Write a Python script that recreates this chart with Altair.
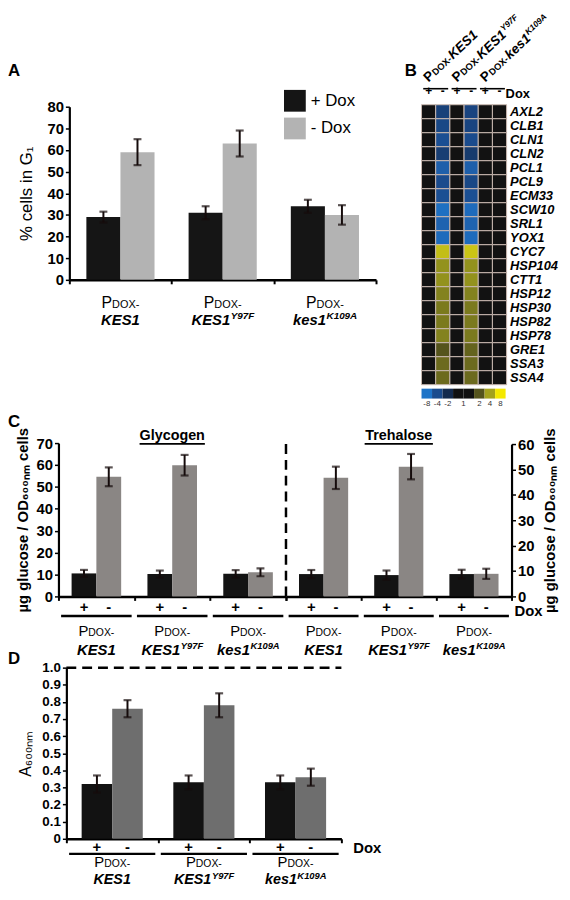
import math
import json
import altair as alt
import pandas as pd

W, H = 560, 884
FONT = "Liberation Sans"
ERR = "#150b0b"

# ---------------- data ----------------
groups = ["KES1", "KES1Y97F", "kes1K109A"]
group_main = ["KES1", "KES1", "kes1"]
group_sup = ["", "Y97F", "K109A"]
dox = ["+ Dox", "- Dox"]
dox_sign = ["+", "-"]

# A: % cells in G1
a_plus = [29, 31, 34]
a_plus_err = [2.5, 3.0, 3.0]
a_minus = [59, 63, 30]
a_minus_err = [6.0, 6.0, 4.5]

# C: glycogen (left axis) and trehalose (right axis)
gly_plus = [10.5, 10.2, 10.3]
gly_plus_err = [1.6, 1.6, 1.7]
gly_minus = [54.6, 59.9, 11.0]
gly_minus_err = [4.3, 4.7, 1.8]
tre_plus = [8.8, 8.4, 8.8]
tre_plus_err = [1.6, 1.8, 1.7]
tre_minus = [46.7, 51.1, 8.9]
tre_minus_err = [4.4, 5.0, 2.0]

# D: A600nm
d_plus = [0.32, 0.33, 0.33]
d_plus_err = [0.05, 0.04, 0.04]
d_minus = [0.76, 0.78, 0.36]
d_minus_err = [0.05, 0.07, 0.05]

# B: heat map (log2 fold change)
genes = ["AXL2", "CLB1", "CLN1", "CLN2", "PCL1", "PCL9", "ECM33", "SCW10", "SRL1", "YOX1",
         "CYC7", "HSP104", "CTT1", "HSP12", "HSP30", "HSP82", "HSP78", "GRE1", "SSA3", "SSA4"]
heat_cols = ["KES1 +", "KES1 -", "KES1Y97F +", "KES1Y97F -", "kes1K109A +", "kes1K109A -"]
lfc_kes1_plus = [0, 0, 0, 0, 0, 0, 0, 0, 0, 0, 0, 0, 0, 0, 0, 0, 0, 0, 0, 0]
lfc_kes1_minus = [-1.7, -1.9, -2.1, -1.6, -2.5, -2.0, -2.1, -2.9, -2.6, -2.8,
                  2.4, 1.8, 1.8, 1.6, 1.5, 1.5, 1.6, 1.0, 1.3, 1.3]
lfc_y97f_plus = [0, 0, 0, 0, 0, 0, 0, 0, 0, 0, 0, 0, 0, 0, 0, 0, 0, 0, 0, 0]
lfc_y97f_minus = [-1.8, -1.8, -2.0, -1.5, -2.5, -1.9, -2.1, -2.8, -2.6, -2.8,
                  2.5, 1.8, 1.8, 1.6, 1.5, 1.5, 1.5, 1.2, 1.3, 1.3]
lfc_k109a_plus = [0, 0, 0, 0, 0, 0, 0, 0, 0, 0, 0, 0, 0, 0, 0, 0, 0, 0, 0, 0]
lfc_k109a_minus = [0, 0, 0, 0, 0, 0, 0, 0, 0, 0, 0, 0, 0, 0, 0, 0, 0, 0, 0, 0]

cb_ids = ["-8", "-4", "-2", "-1", "+1", "2", "4", "8"]
cb_text = ["-8", "-4", "-2", "", "", "2", "4", "8"]

# ---------------- styles ----------------
heat_domain = [-3, -2, -1, 0, 1, 2, 3]
heat_range = ["#1e74c8", "#1a4b8d", "#142b4e", "#121212", "#55541c", "#a4a21c", "#f4e800"]
cb_colors = ["#1e74c8", "#1a4b8d", "#142b4e", "#111111", "#111111", "#55541c", "#a4a21c", "#f4e800"]

BOLD_W = {'K': .722, 'E': .667, 'S': .667, '1': .556, 'k': .556, 'e': .556, 's': .556,
          'Y': .667, '9': .556, '7': .556, 'F': .611, '0': .556, 'A': .722}


def tw(s, size):
    return sum(BOLD_W.get(c, 0.6) for c in s) * size


def bar_frame(plus, plus_err, minus, minus_err):
    rows = []
    for i, g in enumerate(groups):
        for t, s, v, e in [(dox[0], dox_sign[0], plus[i], plus_err[i]),
                           (dox[1], dox_sign[1], minus[i], minus_err[i])]:
            rows.append(dict(group=g, treat=t, sign=s, value=v, lo=v - e, hi=v + e))
    return pd.DataFrame(rows)


lab_df = pd.DataFrame({"group": groups, "main": group_main, "sup": group_sup})


def group_label_layers(X, y_p, y_m, fp, fd, fm, fs):
    p_total = 0.667 * fp + 2.5 * fd
    base = alt.Chart(lab_df)
    layers = [
        base.mark_text(text="P", align="left", baseline="alphabetic", fontSize=fp,
                       dx=-p_total / 2).encode(x=X, y=alt.value(y_p)),
        base.mark_text(text="DOX-", align="left", baseline="alphabetic", fontSize=fd,
                       dx=-p_total / 2 + 0.667 * fp).encode(x=X, y=alt.value(y_p)),
    ]
    for g, m, s in zip(groups, group_main, group_sup):
        wm, ws = tw(m, fm), tw(s, fs)
        start = -(wm + ws) / 2
        sub = base.transform_filter(alt.datum.group == g)
        layers.append(sub.mark_text(align="left", baseline="alphabetic", fontSize=fm,
                                    fontWeight="bold", fontStyle="italic", dx=start)
                      .encode(x=X, y=alt.value(y_m), text="main:N"))
        if s:
            layers.append(sub.mark_text(align="left", baseline="alphabetic", fontSize=fs,
                                        fontWeight="bold", fontStyle="italic",
                                        dx=start + wm + 0.5, dy=-fm * 0.4)
                          .encode(x=X, y=alt.value(y_m), text="sup:N"))
    return layers


def bar_panel(df, xr, yr, ydom, yaxis, ytitle, x_off, colors, bar_pad, legend=None,
              labels=None, pm_y=None, under=None, under_band=0.93):
    xs = alt.Scale(domain=groups, range=xr, paddingInner=0, paddingOuter=0)
    xaxis = alt.Axis(orient="bottom", offset=x_off, labels=False, ticks=True, tickBand="extent",
                     tickSize=4, tickWidth=2, tickColor="black", domainColor="black",
                     domainWidth=2.5, title=None, grid=False)
    X = alt.X("group:N", scale=xs, axis=xaxis, sort=groups, title=None)
    XO = alt.XOffset("treat:N", scale=alt.Scale(domain=dox, paddingInner=0, paddingOuter=bar_pad),
                     sort=dox)
    ys = alt.Scale(domain=ydom, range=yr, nice=False, zero=False)

    def Y(f):
        return alt.Y(f, scale=ys, axis=yaxis, title=ytitle)

    base = alt.Chart(df)
    layers = [
        base.mark_bar().encode(x=X, xOffset=XO, y=Y("value:Q"),
                               color=alt.Color("treat:N", scale=alt.Scale(domain=dox, range=colors),
                                               legend=legend)),
        base.mark_rule(color=ERR, strokeWidth=2).encode(x=X, xOffset=XO, y=Y("lo:Q"), y2="hi:Q"),
        base.mark_tick(color=ERR, thickness=2.2, size=8).encode(x=X, xOffset=XO, y=Y("hi:Q")),
        base.mark_tick(color=ERR, thickness=2.2, size=8).encode(x=X, xOffset=XO, y=Y("lo:Q")),
    ]
    if pm_y is not None:
        layers.append(base.mark_text(fontSize=15, fontWeight="bold", baseline="middle")
                      .encode(x=X, xOffset=XO, y=alt.value(pm_y), text="sign:N"))
    if under is not None:
        layers.append(alt.Chart(lab_df).mark_bar(color="black", width=alt.RelativeBandSize(under_band))
                      .encode(x=X, y=alt.value(under), y2=alt.value(under + 2.5)))
    if labels is not None:
        layers += group_label_layers(X, *labels)
    return layers, X, ys, Y, xs, xaxis


def num_axis(orient, offset, values, size, title_size, title_weight, title_pad,
             label_expr=None, title_angle=None, title_baseline=None):
    kw = dict(orient=orient, offset=offset, values=values, labelFontSize=size,
              labelFontWeight="bold", labelColor="black", tickSize=4, tickWidth=1.5,
              tickColor="black", domainColor="black", domainWidth=2.2, labelPadding=2,
              titleFontSize=title_size, titleFontWeight=title_weight, titleColor="black",
              titlePadding=title_pad, grid=False)
    if label_expr:
        kw["labelExpr"] = label_expr
    if title_angle is not None:
        kw["titleAngle"] = title_angle
    if title_baseline is not None:
        kw["titleBaseline"] = title_baseline
    return alt.Axis(**kw)


# ---------------- Panel A ----------------
A_X, A_Y = [62, 372], [270, 95]
a_axis = num_axis("left", -62, list(range(0, 81, 10)), 15, 17, "normal", 12)
a_legend = alt.Legend(orient="none", legendX=279, legendY=78, title=None, symbolType="square",
                      symbolSize=484, symbolStrokeWidth=0, symbolOpacity=1, labelFontSize=17,
                      labelFont=FONT, labelColor="black", rowPadding=6, labelOffset=5, padding=0)
a_layers, *_ = bar_panel(bar_frame(a_plus, a_plus_err, a_minus, a_minus_err), A_X, A_Y, [0, 80],
                         a_axis, "% cells in G\u2081", 270 - H, ["#151515", "#b3b3b3"], 0.5,
                         legend=a_legend, labels=(298, 316, 16, 11, 15, 10))
panel_a = alt.layer(*a_layers)

# ---------------- Panel B ----------------
HX, HY = [418, 504], [93, 376]
heat_rows = []
for gi, g in enumerate(genes):
    for c, vals in zip(heat_cols, [lfc_kes1_plus, lfc_kes1_minus, lfc_y97f_plus, lfc_y97f_minus,
                                   lfc_k109a_plus, lfc_k109a_minus]):
        heat_rows.append(dict(gene=g, col=c, lfc=vals[gi]))
heat_df = pd.DataFrame(heat_rows)

panel_b = alt.Chart(heat_df).mark_rect(stroke="#c9b9b1", strokeWidth=1).encode(
    x=alt.X("col:N", sort=heat_cols, title=None,
            scale=alt.Scale(domain=heat_cols, range=HX, paddingInner=0, paddingOuter=0),
            axis=alt.Axis(orient="top", offset=-87, labelExpr="slice(datum.value, -1)", labelAngle=0,
                          ticks=False, domain=False, labelFontSize=12, labelFontWeight="bold",
                          labelColor="black", labelPadding=1, title=None, grid=False)),
    y=alt.Y("gene:N", sort=genes, title=None,
            scale=alt.Scale(domain=genes, range=HY, paddingInner=0, paddingOuter=0),
            axis=alt.Axis(orient="right", offset=HX[1] - W, ticks=False, domain=False,
                          labelFontSize=13, labelFontWeight="bold", labelFontStyle="italic",
                          labelColor="black", labelPadding=3, title=None, grid=False)),
    color=alt.Color("lfc:Q", scale=alt.Scale(domain=heat_domain, range=heat_range), legend=None),
)

# rotated column-pair headers, drawn as rotated axis labels of the pair scale
pair_df = pd.DataFrame({"pair": groups, "main": group_main, "sup": group_sup})
pscale = alt.Scale(domain=groups, range=HX, paddingInner=0, paddingOuter=0)
BW = (HX[1] - HX[0]) / len(groups)
ANG, HY0 = 317, 70
rad = math.radians(ANG)
UX, UY = math.cos(rad), math.sin(rad)          # along the rotated text
NX, NY = math.sin(rad), -math.cos(rad)         # "up" for the rotated text
fp_b, fd_b, fm_b, fs_b = 13.5, 9.5, 13.5, 8.5
d_dox = 0.667 * fp_b + 0.5
d_main = d_dox + 2.5 * fd_b + 0.5


def rot_layer(label_expr, along, up, size, style, visible_bar=False):
    ox = along * UX + up * NX
    oy = along * UY + up * NY
    ax = alt.Axis(orient="top", offset=-(HY0 + oy), labelExpr=label_expr, labelAngle=ANG,
                  labelAlign="left", labelBaseline="alphabetic", labelOffset=-0.25 * BW + ox,
                  labelPadding=0, ticks=False, tickSize=0, domain=False, labelFontSize=size,
                  labelFontWeight="bold", labelFontStyle=style, labelColor="black",
                  labelOverlap=False, labelBound=False, labelFlush=False, title=None, grid=False)
    X = alt.X("pair:N", sort=groups, scale=pscale, axis=ax, title=None)
    if visible_bar:
        mark = alt.Chart(pair_df).mark_bar(color="black", width=alt.RelativeBandSize(0.88))
        return mark.encode(x=X, y=alt.value(76), y2=alt.value(77.6))
    return alt.Chart(pair_df).mark_bar(opacity=0).encode(x=X, y=alt.value(0), y2=alt.value(1))


main_map = json.dumps(dict(zip(groups, group_main)))
rot_layers = [
    rot_layer("'P'", 0, 0, fp_b, "normal", visible_bar=True),
    rot_layer("'DOX-'", d_dox, 0, fd_b, "normal"),
    rot_layer(main_map + "[datum.value]", d_main, 0, fm_b, "italic"),
]
for g, m, s in zip(groups, group_main, group_sup):
    if s:
        rot_layers.append(rot_layer("datum.value == '%s' ? '%s' : ''" % (g, s),
                                    d_main + tw(m, fm_b) + 0.5, 5.5, fs_b, "italic"))

cb_df = pd.DataFrame({"step": cb_ids, "fill": cb_colors, "lab": cb_text})
cscale = alt.Scale(domain=cb_ids, range=[418, 503], paddingInner=0, paddingOuter=0)
CX = alt.X("step:N", sort=cb_ids, scale=cscale, axis=None)
cbc = alt.Chart(cb_df)
panel_b_cb = alt.layer(
    cbc.mark_rect().encode(x=CX, y=alt.value(380), y2=alt.value(390),
                           color=alt.Color("fill:N", scale=None)),
    cbc.mark_text(fontSize=8, baseline="top", color="#333333").encode(
        x=CX, y=alt.value(392), text="lab:N"),
    cbc.transform_filter(alt.datum.step == "-1").mark_text(
        text="1", fontSize=8, baseline="top", color="#333333").encode(
        x=alt.X("step:N", sort=cb_ids, scale=cscale, axis=None, bandPosition=1), y=alt.value(392)),
)

# ---------------- Panel C ----------------
C_XG, C_XT, C_Y = [51, 281], [281, 509], [590, 435]
c_title = "\u00b5g glucose / OD\u2086\u2080\u2080\u2099\u2098 cells"
g_axis = num_axis("left", -51, list(range(0, 71, 10)), 15, 15, "bold", 6)
t_axis = num_axis("right", C_XT[1] - W, list(range(0, 61, 10)), 15, 15, "bold", 9,
                  title_angle=270, title_baseline="top")
c_lab = (630, 649, 15, 10.5, 15, 9.5)
g_layers, gX, gys, gY, gxs, gxaxis = bar_panel(
    bar_frame(gly_plus, gly_plus_err, gly_minus, gly_minus_err), C_XG, C_Y, [0, 70], g_axis,
    c_title, 590 - H, ["#131313", "#8a8684"], 0.53, labels=c_lab, pm_y=601, under=608.5)
t_layers, tX, tys, tY, txs, txaxis = bar_panel(
    bar_frame(tre_plus, tre_plus_err, tre_minus, tre_minus_err), C_XT, [590, 436], [0, 60], t_axis,
    c_title, 590 - H, ["#131313", "#8a8684"], 0.53, labels=c_lab, pm_y=601, under=608.5)

mid = alt.Chart(lab_df).transform_filter(alt.datum.group == groups[1])
g_layers += [
    mid.mark_text(text="Glycogen", fontSize=14.5, fontWeight="bold", baseline="alphabetic")
    .encode(x=gX, y=alt.value(432)),
    mid.mark_bar(color="black", width=66).encode(x=gX, y=alt.value(435), y2=alt.value(436.6)),
]
t_layers += [
    mid.mark_text(text="Trehalose", fontSize=14.5, fontWeight="bold", baseline="alphabetic")
    .encode(x=tX, y=alt.value(432)),
    mid.mark_bar(color="black", width=69).encode(x=tX, y=alt.value(435), y2=alt.value(436.6)),
    alt.Chart(lab_df).transform_filter(alt.datum.group == groups[0])
    .mark_rule(color="black", strokeWidth=2.5, strokeDash=[10, 6])
    .encode(x=alt.value(C_XT[0]),
            y=alt.YDatum(60, type="quantitative", scale=tys, axis=t_axis, title=c_title),
            y2=alt.Y2Datum(-1)),
]
panel_cg = alt.layer(*g_layers)
panel_ct = alt.layer(*t_layers)

# ---------------- Panel D ----------------
D_X, D_Y = [59, 337], [835, 662]
d_axis = num_axis("left", -59, [round(0.1 * i, 1) for i in range(11)], 13.5, 16, "normal", 8,
                  label_expr="datum.value == 0 ? '0' : format(datum.value, '.1f')")
d_title = "A\u2086\u2080\u2080\u2099\u2098"
d_layers, dX, dys, dY, dxs, dxaxis = bar_panel(
    bar_frame(d_plus, d_plus_err, d_minus, d_minus_err), D_X, D_Y, [0, 1.0], d_axis, d_title,
    835 - H, ["#121212", "#6e6e6e"], 0.5, labels=(864, 881, 15, 10.5, 14.5, 9.5), pm_y=843,
    under=849, under_band=0.94)
d_layers.append(
    alt.Chart(lab_df).transform_filter(alt.datum.group == groups[0])
    .mark_rule(color="black", strokeWidth=2.5, strokeDash=[10, 6])
    .encode(x=alt.value(D_X[0]), x2=alt.value(D_X[1]),
            y=alt.YDatum(1.0, type="quantitative", scale=dys, axis=d_axis, title=d_title)))
panel_d = alt.layer(*d_layers)

# ---------------- panel letters and "Dox" tags ----------------
one = alt.Chart(pd.DataFrame({"k": [0]}))
misc = alt.layer(
    one.mark_text(text="A", fontSize=17, fontWeight="bold", align="left", baseline="alphabetic")
    .encode(x=alt.value(0), y=alt.value(64)),
    one.mark_text(text="B", fontSize=17, fontWeight="bold", align="left", baseline="alphabetic")
    .encode(x=alt.value(401), y=alt.value(64)),
    one.mark_text(text="C", fontSize=17, fontWeight="bold", align="left", baseline="alphabetic")
    .encode(x=alt.value(0), y=alt.value(419)),
    one.mark_text(text="D", fontSize=17, fontWeight="bold", align="left", baseline="alphabetic")
    .encode(x=alt.value(0), y=alt.value(658)),
    one.mark_text(text="Dox", fontSize=13, fontWeight="bold", align="left", baseline="alphabetic")
    .encode(x=alt.value(HX[1] - 1), y=alt.value(86)),
    one.mark_text(text="Dox", fontSize=15, fontWeight="bold", align="left", baseline="middle")
    .encode(x=alt.value(C_XT[1] + 3), y=alt.value(605)),
    one.mark_text(text="Dox", fontSize=15, fontWeight="bold", align="left", baseline="middle")
    .encode(x=alt.value(D_X[1] + 12), y=alt.value(844)),
)

chart = alt.layer(
    panel_a, panel_b, *rot_layers, panel_b_cb, panel_cg, panel_ct, panel_d, misc
).resolve_scale(
    x="independent", y="independent", xOffset="independent", color="independent"
).resolve_axis(
    x="independent", y="independent"
).resolve_legend(
    color="independent"
).properties(
    width=W, height=H, padding=0, autosize=alt.AutoSizeParams(type="none")
).configure_view(
    stroke=None
).configure_axis(
    labelFont=FONT, titleFont=FONT, grid=False
).configure_text(
    font=FONT, color="black"
).configure_legend(
    labelFont=FONT
)

chart.save("out.html", embed_options={"renderer": "svg", "actions": False})
